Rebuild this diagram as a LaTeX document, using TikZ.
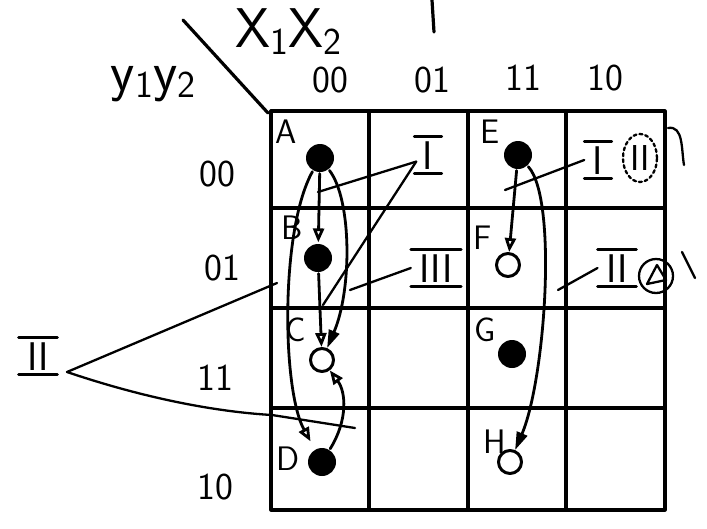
\documentclass[tikz,border=0pt]{standalone}
\usepackage{fontspec}
\usetikzlibrary{arrows.meta,shapes.geometric}
\newcommand{\rbars}[1]{\draw[barline] (#1.north west) -- (#1.north east) (#1.south west) -- (#1.south east);}
\newcommand{\lowsub}[1]{\raisebox{-7pt}{\fontsize{38}{38}\selectfont #1}}
\begin{document}
\begin{tikzpicture}[x=1pt,y=-1pt,line width=3.2pt,line cap=round,line join=round,
  hdr/.style={font=\fontsize{38}{40}\selectfont\sffamily},
  let/.style={font=\fontsize{34}{36}\selectfont\sffamily},
  big/.style={font=\fontsize{56}{58}\selectfont\sffamily,inner sep=0pt},
  rn/.style={font=\fontsize{40}{40}\selectfont\sffamily,inner xsep=7pt,inner ysep=3pt,text height=28pt,text depth=0pt},
  barline/.style={line width=2.8pt},
  dotf/.style={circle,fill=black,minimum size=28pt,inner sep=0pt},
  doto/.style={circle,draw,line width=3pt,minimum size=23pt,inner sep=0pt},
  arrO/.style={-{Triangle[open,length=14pt,width=11pt]}},
  arrF/.style={-{Triangle[length=18pt,width=11pt]}},
  conn/.style={line width=2.8pt},
  lead/.style={line width=2.3pt}]
\useasboundingbox (0,0) rectangle (707,528);
\fill[white] (0,0) rectangle (707,528);
% grid
\draw (271,111) rectangle (665,510);
\draw (369,111) -- (369,510);
\draw (468,111) -- (468,510);
\draw (566,111) -- (566,510);
\draw (271,208) -- (665,208);
\draw (271,308) -- (665,308);
\draw (271,408) -- (665,408);
\draw (183,20) -- (268,113);
\draw (432,0) -- (434,32);
% headers
\node[big] (x12) at (288,32) {X\lowsub{1}X\lowsub{2}};
\node[big] (y12) at (153,84) {y\lowsub{1}y\lowsub{2}};
\node[hdr] (c00) at (330,80) {00};
\node[hdr] (c01) at (432,80) {01};
\node[hdr] (c11) at (523,78) {11};
\node[hdr] (c10) at (605,78) {10};
\node[hdr] (r00) at (217,174) {00};
\node[hdr] (r01) at (222,268) {01};
\node[hdr] (r11) at (215,378) {11};
\node[hdr] (r10) at (215,487) {10};
% cell letters
\node[let] (lA) at (286,132) {A};
\node[let] (lB) at (292,228) {B};
\node[let] (lC) at (296,330) {C};
\node[let] (lD) at (288,459) {D};
\node[let] (lE) at (490,132) {E};
\node[let] (lF) at (483,238) {F};
\node[let] (lG) at (485,330) {G};
\node[let] (lH) at (495,442) {H};
% dots
\node[dotf] (dA) at (320,158) {};
\node[dotf] (dB) at (318,258) {};
\node[doto] (dC) at (322,360) {};
\node[dotf] (dD) at (322,462) {};
\node[dotf] (dE) at (518,155) {};
\node[doto] (dF) at (508,265) {};
\node[dotf] (dG) at (512,354) {};
\node[doto] (dH) at (510,462) {};
% arrows
\draw[conn,arrO] (dA) -- (dB);
\draw[conn,arrO] (dB) -- (dC);
\draw[conn,arrO] (dE) -- (dF);
\draw[conn,arrO,shorten >=8pt] (dA) .. controls (280,230) and (282,390) .. (dD);
\draw[conn,arrF] (dA) .. controls (352,200) and (352,290) .. (dC);
\draw[conn,arrO] (dD) .. controls (348,420) and (346,392) .. (dC);
\draw[conn,arrF] (dE) .. controls (558,200) and (545,380) .. (dH);
% labels I, III
\node[rn] (rI) at (428,155) {I};
\rbars{rI}
\coordinate (pAB) at (318,192);
\coordinate (pBC) at (323,305);
\draw[lead] (rI.south west) ++(2,-12) coordinate (rIa) -- (pAB);
\draw[lead] (rIa) -- (pBC);
\node[rn] (rIII) at (436,268) {III};
\rbars{rIII}
\coordinate (pIII) at (350,290);
\draw[lead] (rIII.west) -- (pIII);
% right labels
\node[rn] (rI2) at (598,160) {I};
\rbars{rI2}
\coordinate (pEF) at (505,190);
\draw[lead] (rI2.west) -- (pEF);
\node[font=\fontsize{36}{36}\selectfont\sffamily,draw,dashed,ellipse,lead,inner sep=0pt,minimum width=34pt,minimum height=48pt] (rII2) at (640,158) {II};
\coordinate (arcS) at (668,128);
\coordinate (arcE) at (684,165);
\draw[lead] (arcS) to[out=10,in=100] (arcE);
\node[rn] (rII) at (617,268) {II};
\rbars{rII}
\coordinate (pEH) at (558,290);
\draw[lead] (rII.west) -- (pEH);
\node[circle,draw,lead,minimum size=34pt,inner sep=0pt] (tri) at (656,276) {};
\draw[lead] (tri.center) ++(-9,8) coordinate (t1) -- ++(10,-19) coordinate (t2) -- ++(9,15) coordinate (t3) -- cycle;
\coordinate (sl1) at (682,252);
\coordinate (sl2) at (695,278);
\draw[lead] (sl1) -- (sl2);
% left II
\node[rn] (rIIL) at (38,356) {II};
\rbars{rIIL}
\coordinate (vL) at (67,372);
\coordinate (pB) at (277,283);
\coordinate (pD1) at (272,415);
\coordinate (pD2) at (355,428);
\draw[lead] (vL) -- (pB);
\draw[lead] (vL) .. controls (150,400) and (220,412) .. (pD1) -- (pD2);
\end{tikzpicture}
\end{document}
